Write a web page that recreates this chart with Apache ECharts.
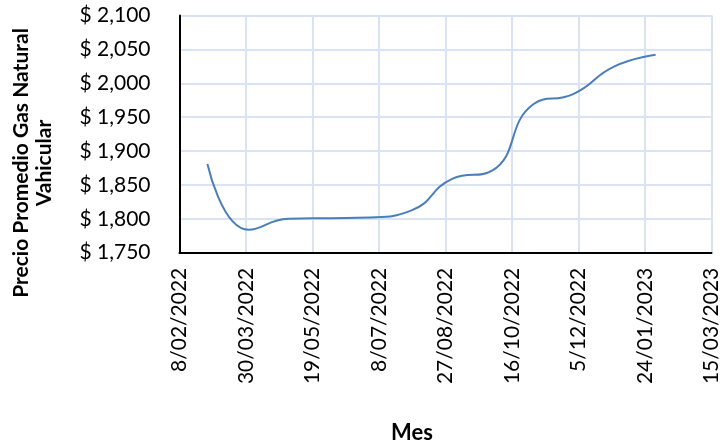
<!DOCTYPE html>
<html>
<head>
<meta charset="utf-8">
<script src="https://cdn.jsdelivr.net/npm/echarts@6/dist/echarts.min.js"></script>
<style>
  html, body { margin: 0; padding: 0; background: #fff; }
</style>
</head>
<body>
<div id="chart" style="width:722px;height:447px;"></div>
<script>
// datos
var fechas = ["2022-03-01", "2022-04-01", "2022-05-01", "2022-06-01", "2022-07-01", "2022-08-01",
  "2022-09-01", "2022-10-01", "2022-11-01", "2022-12-01", "2023-01-01", "2023-02-01"];
var precios = [1881, 1784, 1800, 1801, 1802, 1812, 1859, 1871, 1969, 1984, 2025, 2042];
var inicioEje = "2022-02-08";
var yMin = 1750, yMax = 2100, yPaso = 50;
var xPaso = 50, xMax = 400;

var DIA = 86400000;
function utc(s) {
  var p = s.split("-");
  return Date.UTC(+p[0], +p[1] - 1, +p[2]);
}
var base = utc(inicioEje);
function diaDesdeBase(s) {
  return Math.round((utc(s) - base) / DIA);
}
function etiquetaFecha(v) {
  var d = new Date(base + v * DIA);
  var mm = d.getUTCMonth() + 1;
  return d.getUTCDate() + "/" + (mm < 10 ? "0" + mm : mm) + "/" + d.getUTCFullYear();
}
function pesos(v) {
  return "$ " + String(v).replace(/\B(?=(\d{3})+(?!\d))/g, ",");
}

var serie = [];
for (let i = 0; i < fechas.length; i++) {
  serie.push([diaDesdeBase(fechas[i]), precios[i]]);
}

var fuente = "Lato, 'Open Sans', sans-serif";
var gridColor = "#d9e3f3";

var myChart = echarts.init(document.getElementById("chart"));
var option = {
  animation: false,
  textStyle: { fontFamily: fuente },
  grid: {
    left: 179.5,
    right: 10.5,
    top: 15.5,
    bottom: 194.3
  },
  xAxis: {
    type: "value",
    min: 0,
    max: xMax,
    interval: xPaso,
    axisLine: { show: true, onZero: false, lineStyle: { color: "#000", width: 2 } },
    axisTick: { show: false },
    splitLine: { show: true, lineStyle: { color: gridColor, width: 2 } },
    axisLabel: {
      rotate: 90,
      margin: 15,
      color: "#000",
      fontSize: 21,
      fontFamily: fuente,
      formatter: etiquetaFecha,
      showMinLabel: true,
      showMaxLabel: true
    }
  },
  yAxis: {
    type: "value",
    min: yMin,
    max: yMax,
    interval: yPaso,
    axisLine: { show: true, lineStyle: { color: "#000", width: 2 } },
    axisTick: { show: false },
    splitLine: { show: true, lineStyle: { color: gridColor, width: 2 } },
    axisLabel: {
      margin: 29,
      color: "#000",
      fontSize: 21,
      fontFamily: fuente,
      formatter: pesos
    }
  },
  graphic: [
    {
      type: "text",
      x: 33,
      y: 163,
      rotation: Math.PI / 2,
      style: {
        text: "Precio Promedio Gas Natural\nVahicular",
        fontFamily: fuente,
        fontWeight: "bold",
        fontSize: 21,
        lineHeight: 23,
        fill: "#000",
        align: "center",
        verticalAlign: "middle"
      }
    },
    {
      type: "text",
      x: 412,
      y: 433,
      style: {
        text: "Mes",
        fontFamily: fuente,
        fontWeight: "bold",
        fontSize: 22,
        fill: "#000",
        align: "center",
        verticalAlign: "middle"
      }
    }
  ],
  series: [
    {
      type: "line",
      data: serie,
      smooth: 0.5,
      showSymbol: false,
      lineStyle: { color: "#4a7ebb", width: 2 },
      itemStyle: { color: "#4a7ebb" }
    }
  ]
};
myChart.setOption(option, true);
</script>
</body>
</html>
